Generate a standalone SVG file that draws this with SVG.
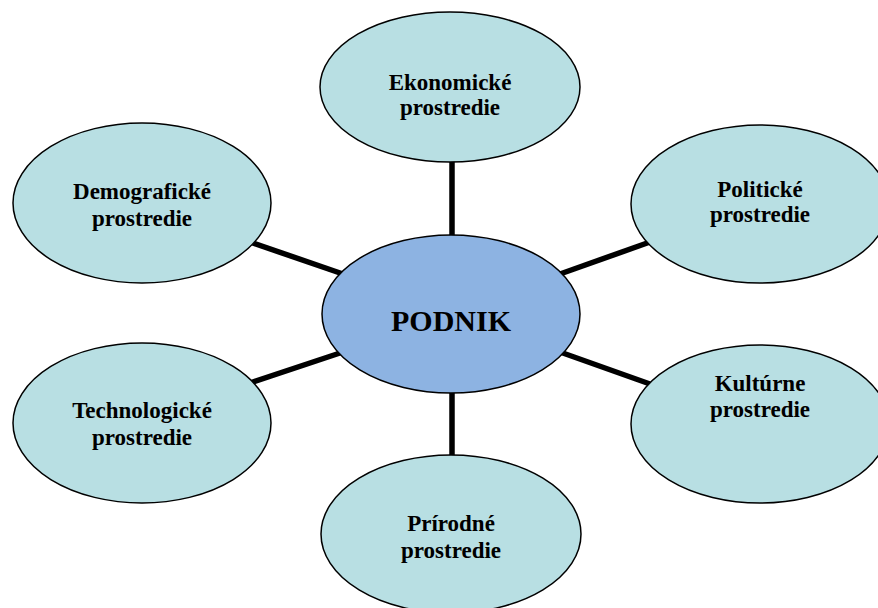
<svg xmlns="http://www.w3.org/2000/svg" width="878" height="608" viewBox="0 0 878 608">
<style>
.outer{fill:#B8DFE3;stroke:#000;stroke-width:1.5}
.center{fill:#8DB3E2;stroke:#000;stroke-width:1.5}
.conn{stroke:#000;stroke-width:5.5;stroke-linecap:butt}
text{font-family:"Liberation Serif","Times New Roman",serif;font-weight:bold;fill:#000;text-anchor:middle}
.lbl{font-size:23px}
.main{font-size:30px}
</style>
<rect width="878" height="608" fill="#fff"/>
<g id="connectors">
<line class="conn" x1="452" y1="160" x2="452" y2="240"/>
<line class="conn" x1="452" y1="390" x2="452" y2="458"/>
<line class="conn" x1="250" y1="242" x2="343" y2="274"/>
<line class="conn" x1="250" y1="383" x2="343" y2="352"/>
<line class="conn" x1="560" y1="274" x2="650" y2="242"/>
<line class="conn" x1="560" y1="352" x2="650" y2="384"/>
</g>
<g id="ekonomicke">
<ellipse class="outer" cx="450" cy="87" rx="130" ry="75"/>
<text class="lbl" x="450" y="90">Ekonomické</text>
<text class="lbl" x="450" y="115">prostredie</text>
</g>
<g id="politicke">
<ellipse class="outer" cx="760" cy="204" rx="129" ry="79"/>
<text class="lbl" x="760" y="197">Politické</text>
<text class="lbl" x="760" y="222">prostredie</text>
</g>
<g id="demograficke">
<ellipse class="outer" cx="142" cy="203" rx="129" ry="80"/>
<text class="lbl" x="142" y="199">Demografické</text>
<text class="lbl" x="142" y="226">prostredie</text>
</g>
<g id="technologicke">
<ellipse class="outer" cx="142" cy="423" rx="129" ry="80"/>
<text class="lbl" x="142" y="418">Technologické</text>
<text class="lbl" x="142" y="445">prostredie</text>
</g>
<g id="kulturne">
<ellipse class="outer" cx="760" cy="424" rx="129" ry="79"/>
<text class="lbl" x="760" y="391">Kultúrne</text>
<text class="lbl" x="760" y="417">prostredie</text>
</g>
<g id="prirodne">
<ellipse class="outer" cx="451" cy="534" rx="130" ry="79"/>
<text class="lbl" x="451" y="531">Prírodné</text>
<text class="lbl" x="451" y="558">prostredie</text>
</g>
<g id="podnik">
<ellipse class="center" cx="451" cy="314" rx="129" ry="79"/>
<text class="main" x="451" y="331">PODNIK</text>
</g>
</svg>
